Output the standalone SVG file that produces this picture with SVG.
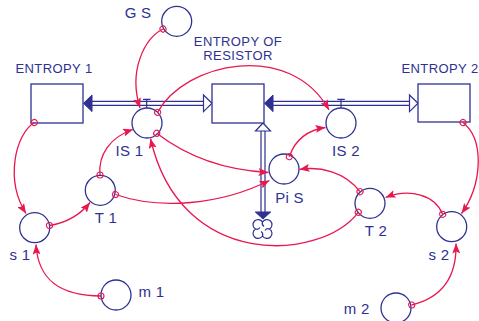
<svg xmlns="http://www.w3.org/2000/svg" width="479" height="321" viewBox="0 0 479 321">
<defs>
<style>
.stock{fill:#fff;stroke:#2e3192;stroke-width:1.3}
.aux{fill:#fff;stroke:#2e3192;stroke-width:1.3}
.pipe{fill:none;stroke:#2e3192;stroke-width:1.2}
.filled{fill:#2e3192;stroke:#2e3192;stroke-width:1}
.hollow{fill:#fff;stroke:#2e3192;stroke-width:1.2}
.lbl{font-family:"Liberation Sans",Arial,sans-serif;font-size:15px;fill:#2e3192;letter-spacing:0.3px}
.big{font-size:13px;letter-spacing:0.4px}
.link{fill:none;stroke:#e8174f;stroke-width:1.3;marker-start:url(#o);marker-end:url(#a)}
</style>
<marker id="a" viewBox="0 0 10 8" refX="10" refY="4" markerWidth="10" markerHeight="8" markerUnits="userSpaceOnUse" orient="auto">
<path d="M0,0 L10,4 L0,8 L2,4 z" fill="#e8174f"/>
</marker>
<marker id="o" viewBox="0 0 8 8" refX="4" refY="4" markerWidth="8" markerHeight="8" markerUnits="userSpaceOnUse" orient="auto">
<circle cx="4" cy="4" r="3" fill="none" stroke="#e8174f" stroke-width="1.1"/>
</marker>
</defs>
<rect width="479" height="321" fill="#fff"/>

<g id="flows">
<g id="flow-IS1">
<path class="pipe" d="M92,101.3 H204 M92,105.3 H204"/>
<polygon class="filled" points="83.5,103.3 92,95 92,111.6"/>
<polygon class="hollow" points="212,103.3 203.5,95 203.5,111.6"/>
<path class="pipe" d="M146.7,99.3 V108 M143,99.3 H150.5"/>
</g>
<g id="flow-IS2">
<path class="pipe" d="M273,101.3 H410 M273,105.3 H410"/>
<polygon class="filled" points="264.5,103.3 273,95 273,111.6"/>
<polygon class="hollow" points="418,103.3 409.5,95 409.5,111.6"/>
<path class="pipe" d="M341,99.3 V108 M337.3,99.3 H344.8"/>
</g>
<g id="flow-PiS">
<path class="pipe" d="M261,131 V212.5 M265,131 V212.5"/>
<polygon class="hollow" points="263,123 255.5,131 270.5,131"/>
<polygon class="filled" points="263,219 255.3,212 270.7,212"/>
<g id="cloud" fill="#fff" stroke="#2e3192" stroke-width="1.2">
<path d="M255.5,229 A5.1,5.1 0 1 1 262.5,222 A5.1,5.1 0 1 1 269.5,229 A5.1,5.1 0 1 1 262.5,236 A5.1,5.1 0 1 1 255.5,229 z"/>
<path fill="none" d="M262.5,222 q-1,3 1.5,4.5 M269.5,229 q-3,-1 -4.5,1.5 M262.5,236 q1,-3 -1.5,-4.5 M255.5,229 q3,1 4.5,-1.5"/>
</g>
</g>
</g>

<g id="node-ENTROPY1">
<rect class="stock" x="31" y="84" width="52" height="39"/>
<text class="lbl big" x="54" y="73" text-anchor="middle">ENTROPY 1</text>
</g>
<g id="node-RESISTOR">
<rect class="stock" x="212" y="84" width="52" height="39"/>
<text class="lbl big" x="238" y="46" text-anchor="middle">ENTROPY OF</text>
<text class="lbl big" x="238" y="59.5" text-anchor="middle">RESISTOR</text>
</g>
<g id="node-ENTROPY2">
<rect class="stock" x="418" y="84" width="52" height="38"/>
<text class="lbl big" x="401.5" y="73">ENTROPY 2</text>
</g>
<g id="node-GS">
<circle class="aux" cx="176.7" cy="21.3" r="15"/>
<text class="lbl" x="138" y="18" text-anchor="middle">G S</text>
</g>
<g id="node-IS1">
<circle class="aux" cx="147" cy="123" r="15"/>
<text class="lbl" x="129.5" y="155.5" text-anchor="middle">IS 1</text>
</g>
<g id="node-IS2">
<circle class="aux" cx="341" cy="123" r="15"/>
<text class="lbl" x="346" y="156" text-anchor="middle">IS 2</text>
</g>
<g id="node-PiS">
<circle class="aux" cx="284" cy="169" r="15"/>
<text class="lbl" x="289.5" y="203" text-anchor="middle">Pi S</text>
</g>
<g id="node-T1">
<circle class="aux" cx="100.3" cy="190.3" r="15"/>
<text class="lbl" x="106" y="222.7" text-anchor="middle">T 1</text>
</g>
<g id="node-s1">
<circle class="aux" cx="34.7" cy="227.7" r="15"/>
<text class="lbl" x="20" y="260" text-anchor="middle">s 1</text>
</g>
<g id="node-m1">
<circle class="aux" cx="116" cy="295" r="15"/>
<text class="lbl" x="151.5" y="297" text-anchor="middle">m 1</text>
</g>
<g id="node-T2">
<circle class="aux" cx="370" cy="203.3" r="15"/>
<text class="lbl" x="376" y="236" text-anchor="middle">T 2</text>
</g>
<g id="node-s2">
<circle class="aux" cx="451.7" cy="226.7" r="15"/>
<text class="lbl" x="439" y="259.5" text-anchor="middle">s 2</text>
</g>
<g id="node-m2">
<circle class="aux" cx="396" cy="308" r="15"/>
<text class="lbl" x="356.7" y="313.5" text-anchor="middle">m 2</text>
</g>

<g id="connectors">
<path class="link" d="M163,29 C145,38 128,70 140,108"/>
<path class="link" d="M157.6,112.4 C185,62 290,40 329,110"/>
<path class="link" d="M156.7,133.3 C185,155 220,170 268.5,172.5"/>
<path class="link" d="M115.5,194.5 C160,210 220,205 269.5,180.5"/>
<path class="link" d="M100,175 C98,155 110,137 133,129.5"/>
<path class="link" d="M289.3,156.7 C295,140 308,130 325.5,127.5"/>
<path class="link" d="M360,191.7 C345,172 320,166 299.5,169.5"/>
<path class="link" d="M358.3,212.3 C320,262 180,270 150.5,138.5"/>
<path class="link" d="M442.7,214.3 C435,195 410,188 385.5,197.5"/>
<path class="link" d="M463,122.5 C485,140 482,185 461.5,213.5"/>
<path class="link" d="M411.7,305 C440,298 457,280 456,243.5"/>
<path class="link" d="M34.3,122.5 C15,135 5,180 26,213.5"/>
<path class="link" d="M49.5,225.5 C65,223 80,215 90,202.5"/>
<path class="link" d="M101,296 C60,296 38,280 36,244.5"/>
</g>
</svg>
